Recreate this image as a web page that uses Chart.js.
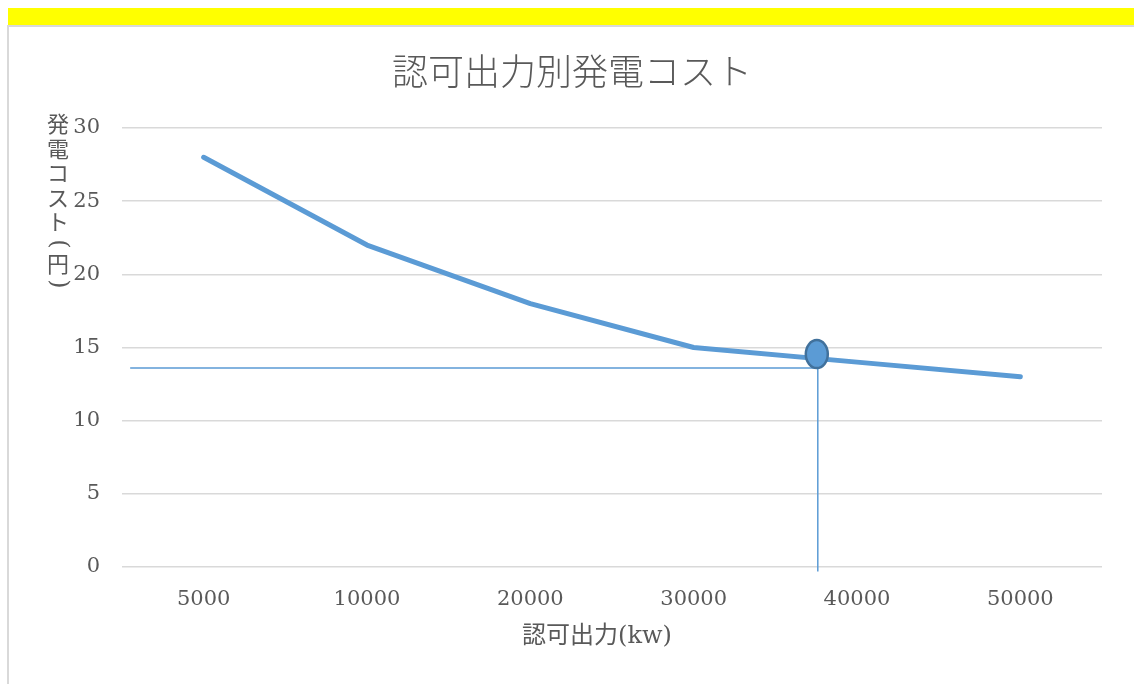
<!DOCTYPE html>
<html>
<head>
<meta charset="utf-8">
<script src="https://cdn.jsdelivr.net/npm/chart.js@4/dist/chart.umd.min.js"></script>
<style>
  body { margin: 0; background: #fff; }
  #band { position: absolute; left: 8px; top: 8px; right: 0; height: 17px; background: #ffff00; }
  #frame { position: absolute; left: 7px; top: 25px; right: 0; bottom: 0;
           border-top: 2px solid #d9d9d9; border-left: 2px solid #d9d9d9; }
  #costChart { position: absolute; left: 0; top: 0; }
</style>
</head>
<body>
<div id="band"></div>
<div id="frame"></div>
<canvas id="costChart" width="1134" height="684"></canvas>
<script>
// chart data
const outputLabels = ["5000", "10000", "20000", "30000", "40000", "50000"];
const costValues = [28, 22, 18, 15, 14, 13];
const yMin = 0;
const yMax = 30;
const yStep = 5;

// guide lines and marker (x as category index, y as cost)
const guideStartX = -0.45;
const guideX = 3.76;
const guideY = 13.6;
const guideBottomY = -0.3;
const markerY = 14.55;

const chartTitle = "認可出力別発電コスト";
const xTitle = "認可出力(kw)";
const yTitleChars = ["発", "電", "コ", "ス", "ト", "(", "円", ")"];

const textColor = "#595959";
const lineColor = "#5b9bd5";
const serif = "'DejaVu Serif', 'Noto Sans CJK JP', serif";

const drawExtras = {
  id: "drawExtras",
  afterDatasetsDraw(chart) {
    const ctx = chart.ctx;
    const x = chart.scales.x;
    const y = chart.scales.y;

    // guide lines
    const gx = x.getPixelForValue(guideX);
    const gy = y.getPixelForValue(guideY);
    ctx.save();
    ctx.strokeStyle = lineColor;
    ctx.lineWidth = 1.5;
    ctx.beginPath();
    ctx.moveTo(x.getPixelForValue(guideStartX), gy);
    ctx.lineTo(gx, gy);
    ctx.moveTo(gx, gy);
    ctx.lineTo(gx, y.getPixelForValue(guideBottomY));
    ctx.stroke();

    // marker
    ctx.beginPath();
    ctx.ellipse(gx - 1, y.getPixelForValue(markerY), 11, 14, 0, 0, Math.PI * 2);
    ctx.fillStyle = lineColor;
    ctx.fill();
    ctx.lineWidth = 2.5;
    ctx.strokeStyle = "#41719c";
    ctx.stroke();
    ctx.restore();
  },
  afterDraw(chart) {
    const ctx = chart.ctx;
    ctx.save();
    ctx.fillStyle = textColor;
    ctx.textAlign = "center";
    ctx.textBaseline = "middle";

    ctx.font = "300 36px 'Noto Sans CJK JP', sans-serif";
    ctx.fillText(chartTitle, 572, 71);

    ctx.font = "24px " + serif;
    ctx.fillText(xTitle, 597, 637);

    // vertical axis title, stacked upright; brackets turned sideways
    const ys = [124, 149, 173, 198, 222, 244, 264, 284];
    yTitleChars.forEach((c, i) => {
      if (c === "(" || c === ")") {
        ctx.save();
        ctx.translate(58, ys[i]);
        ctx.rotate(Math.PI / 2);
        ctx.font = "24px " + serif;
        ctx.fillText(c, 0, 0);
        ctx.restore();
      } else {
        ctx.font = "22px 'Noto Sans CJK JP', sans-serif";
        ctx.fillText(c, 58, ys[i]);
      }
    });
    ctx.restore();
  }
};

new Chart(document.getElementById("costChart").getContext("2d"), {
  type: "line",
  data: {
    labels: outputLabels,
    datasets: [
      {
        label: "発電コスト",
        data: costValues,
        borderColor: lineColor,
        borderWidth: 5,
        borderCapStyle: "round",
        borderJoinStyle: "round",
        pointRadius: 0,
        tension: 0,
        fill: false,
      },
    ],
  },
  options: {
    responsive: false,
    animation: false,
    devicePixelRatio: 1,
    layout: { padding: { left: 0, right: 32, top: 128, bottom: 0 } },
    plugins: {
      legend: { display: false },
      tooltip: { enabled: false },
    },
    scales: {
      x: {
        offset: true,
        grid: { display: false, drawTicks: false },
        border: { display: false },
        ticks: { color: textColor, font: { family: serif, size: 21 }, padding: 20, maxRotation: 0 },
        afterFit: (s) => { s.height = 117; },
      },
      y: {
        min: yMin,
        max: yMax,
        grid: { color: "#d9d9d9", lineWidth: 1.5, drawTicks: false },
        border: { display: false },
        ticks: { stepSize: yStep, color: textColor, font: { family: serif, size: 21 }, padding: 22 },
        afterFit: (s) => { s.width = 122; },
      },
    },
  },
  plugins: [drawExtras],
});
</script>
</body>
</html>
